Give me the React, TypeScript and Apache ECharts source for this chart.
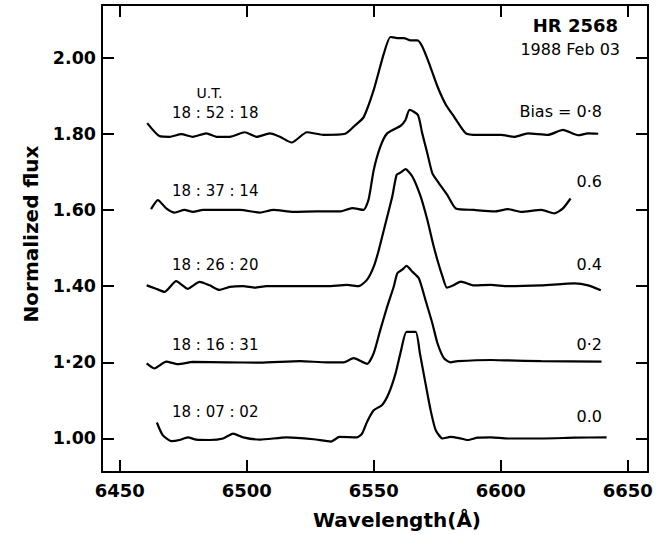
import React, { useEffect, useRef } from "react";
import * as echarts from "echarts";

// Tick values and labels
const xTicks = [6450, 6500, 6550, 6600, 6650];
const yTicks = [1.0, 1.2, 1.4, 1.6, 1.8, 2.0];
const yTickLabels = ["1.00", "1·20", "1.40", "1.60", "1.80", "2.00"];

// Spectra (plotted values include bias offset)
const wl08 = [6460.8, 6465.6, 6469.6, 6474.2, 6478.8, 6484.1, 6488.1, 6493.3, 6499.2, 6503.9, 6509.1, 6513.1, 6517.7, 6523.7, 6530.2, 6538.8, 6542.8, 6546.0, 6550.0, 6554.0, 6556.6, 6559.3, 6561.9, 6564.5, 6567.2, 6569.1, 6571.8, 6575.1, 6578.4, 6581.6, 6586.3, 6590.9, 6596.2, 6600.1, 6605.4, 6610.7, 6618.6, 6624.5, 6630.5, 6634.4, 6638.4];
const f08 = [1.828, 1.794, 1.792, 1.799, 1.792, 1.801, 1.792, 1.792, 1.804, 1.792, 1.801, 1.792, 1.777, 1.804, 1.797, 1.8, 1.823, 1.843, 1.915, 2.011, 2.054, 2.051, 2.051, 2.045, 2.045, 2.029, 1.985, 1.924, 1.876, 1.845, 1.801, 1.797, 1.797, 1.797, 1.792, 1.801, 1.797, 1.81, 1.796, 1.801, 1.8];

const wl06 = [6462.3, 6465.0, 6468.3, 6471.6, 6475.5, 6478.8, 6482.8, 6489.4, 6497.3, 6505.2, 6510.5, 6518.4, 6527.6, 6536.8, 6541.5, 6546.0, 6548.0, 6550.0, 6552.6, 6555.3, 6560.6, 6562.5, 6564.1, 6567.4, 6569.1, 6571.1, 6573.1, 6575.7, 6579.0, 6582.3, 6589.5, 6597.5, 6602.8, 6608.0, 6616.0, 6621.2, 6624.5, 6627.5];
const f06 = [1.602, 1.626, 1.604, 1.593, 1.6, 1.595, 1.6, 1.6, 1.6, 1.593, 1.6, 1.595, 1.596, 1.596, 1.605, 1.6, 1.628, 1.705, 1.766, 1.801, 1.821, 1.836, 1.863, 1.849, 1.801, 1.749, 1.696, 1.67, 1.639, 1.604, 1.6, 1.596, 1.602, 1.595, 1.6, 1.591, 1.604, 1.63];

const wl04 = [6460.6, 6464.3, 6467.6, 6472.2, 6476.8, 6481.4, 6485.4, 6489.1, 6493.3, 6498.6, 6503.2, 6507.8, 6518.4, 6531.6, 6539.5, 6544.1, 6547.4, 6550.0, 6552.0, 6555.3, 6557.3, 6559.0, 6560.5, 6562.5, 6565.2, 6568.5, 6571.1, 6573.4, 6575.1, 6577.1, 6578.8, 6581.6, 6584.3, 6589.5, 6596.2, 6602.8, 6616.0, 6629.1, 6634.4, 6639.4];
const f04 = [1.402, 1.393, 1.385, 1.413, 1.393, 1.411, 1.402, 1.39, 1.398, 1.4, 1.396, 1.4, 1.4, 1.4, 1.403, 1.4, 1.417, 1.451, 1.495, 1.582, 1.635, 1.692, 1.698, 1.707, 1.688, 1.635, 1.574, 1.51, 1.468, 1.425, 1.396, 1.403, 1.412, 1.402, 1.403, 1.4, 1.402, 1.407, 1.402, 1.389];

const wl02 = [6460.6, 6463.6, 6468.3, 6472.9, 6478.8, 6492.0, 6505.2, 6521.0, 6531.6, 6538.1, 6542.1, 6547.4, 6550.0, 6552.6, 6555.3, 6557.9, 6559.3, 6561.2, 6562.9, 6565.2, 6567.8, 6570.4, 6573.1, 6575.1, 6577.7, 6580.3, 6583.0, 6596.2, 6602.8, 6616.0, 6639.7];
const f02 = [1.197, 1.184, 1.202, 1.195, 1.201, 1.2, 1.199, 1.203, 1.2, 1.2, 1.211, 1.196, 1.224, 1.285, 1.346, 1.399, 1.434, 1.443, 1.453, 1.438, 1.42, 1.363, 1.302, 1.25, 1.21, 1.2, 1.203, 1.206, 1.205, 1.203, 1.202];

const wl00 = [6464.6, 6466.9, 6470.3, 6473.5, 6476.8, 6480.1, 6485.4, 6490.7, 6494.6, 6498.6, 6505.2, 6515.7, 6526.3, 6533.2, 6536.5, 6543.4, 6545.4, 6547.4, 6550.0, 6553.3, 6555.9, 6558.6, 6560.8, 6562.9, 6566.5, 6568.2, 6570.4, 6572.4, 6574.4, 6577.1, 6580.3, 6583.6, 6587.0, 6590.9, 6596.2, 6602.8, 6616.0, 6629.1, 6641.7];
const f00 = [1.042, 1.009, 0.993, 0.996, 1.003, 0.997, 0.996, 1.0, 1.013, 1.003, 0.997, 1.003, 0.998, 0.992, 1.004, 1.003, 1.013, 1.044, 1.074, 1.088, 1.118, 1.171, 1.232, 1.28, 1.28, 1.223, 1.144, 1.074, 1.022, 1.0, 1.004, 1.001, 0.996, 1.002, 1.003, 1.0, 1.0, 1.002, 1.003];

const times = ["18 : 52 : 18", "18 : 37 : 14", "18 : 26 : 20", "18 : 16 : 31", "18 : 07 : 02"];
const biasLabels = ["Bias = 0·8", "0.6", "0.4", "0·2", "0.0"];

const FONT = "DejaVu Sans";

function pairs(xs: number[], ys: number[]) {
  return xs.map((x, i) => [x, ys[i]]);
}

export default function App() {
  const ref = useRef<HTMLDivElement>(null);
  useEffect(() => {
    if (!ref.current) return;
    const chart = echarts.init(ref.current, undefined, { renderer: "svg" });
    const spectra = [
      pairs(wl08, f08),
      pairs(wl06, f06),
      pairs(wl04, f04),
      pairs(wl02, f02),
      pairs(wl00, f00),
    ];
    const axisLine = { show: true, lineStyle: { color: "#000", width: 2 } };
    const tickStyle = { lineStyle: { color: "#000", width: 2 } };
    const timeY = [112.5, 190.5, 265.3, 344.7, 412];
    const biasY = [111, 181.7, 264, 344, 416];
    const graphic: any[] = [
      { type: "text", x: 618, y: 25, style: { text: "HR 2568", font: `bold 18px '${FONT}'`, fill: "#000", align: "right", verticalAlign: "middle" } },
      { type: "text", x: 620, y: 49, style: { text: "1988 Feb 03", font: `16px '${FONT}'`, fill: "#000", align: "right", verticalAlign: "middle" } },
      { type: "text", x: 209.5, y: 93.3, style: { text: "U.T.", font: `14px '${FONT}'`, fill: "#000", align: "center", verticalAlign: "middle" } },
      { type: "text", x: 397, y: 520, style: { text: "Wavelength(Å)", font: `bold 20px '${FONT}'`, fill: "#000", align: "center", verticalAlign: "middle" } },
      { type: "text", x: 30.5, y: 234, rotation: Math.PI / 2, style: { text: "Normalized flux", font: `bold 20px '${FONT}'`, fill: "#000", align: "center", verticalAlign: "middle" } },
    ];
    times.forEach((t, i) => {
      graphic.push({ type: "text", x: 172, y: timeY[i], style: { text: t, font: `15px '${FONT}'`, fill: "#000", align: "left", verticalAlign: "middle" } });
    });
    biasLabels.forEach((t, i) => {
      graphic.push({ type: "text", x: 602, y: biasY[i], style: { text: t, font: `16px '${FONT}'`, fill: "#000", align: "right", verticalAlign: "middle" } });
    });

    chart.setOption({
      animation: false,
      backgroundColor: "#fff",
      grid: { left: 102, right: 18, top: 5, bottom: 63, containLabel: false },
      xAxis: [
        {
          type: "value", position: "bottom", min: 6443, max: 6658,
          axisLine, splitLine: { show: false },
          axisTick: { show: true, inside: true, length: 12, customValues: xTicks, ...tickStyle },
          axisLabel: { show: true, customValues: xTicks, margin: 9, color: "#000", fontFamily: FONT, fontSize: 18, fontWeight: "bold", formatter: (v: number) => String(Math.round(v)) },
        },
        {
          type: "value", position: "top", min: 6443, max: 6658,
          axisLine, splitLine: { show: false },
          axisTick: { show: true, inside: true, length: 12, customValues: xTicks, ...tickStyle },
          axisLabel: { show: false },
        },
      ],
      yAxis: [
        {
          type: "value", position: "left", min: 0.912, max: 2.138,
          axisLine, splitLine: { show: false },
          axisTick: { show: true, inside: true, length: 12, customValues: yTicks, ...tickStyle },
          axisLabel: {
            show: true, customValues: yTicks, margin: 6, color: "#000", fontFamily: FONT, fontSize: 17.5, fontWeight: "bold",
            formatter: (v: number) => {
              let best = 0;
              yTicks.forEach((t, i) => { if (Math.abs(t - v) < Math.abs(yTicks[best] - v)) best = i; });
              return yTickLabels[best];
            },
          },
        },
        {
          type: "value", position: "right", min: 0.912, max: 2.138,
          axisLine, splitLine: { show: false },
          axisTick: { show: true, inside: true, length: 12, customValues: yTicks, ...tickStyle },
          axisLabel: { show: false },
        },
      ],
      series: spectra.map((d) => ({
        type: "line",
        data: d,
        xAxisIndex: 0,
        yAxisIndex: 0,
        showSymbol: false,
        smooth: 0.2,
        lineStyle: { color: "#000", width: 2.2 },
      })),
      graphic,
    });
    return () => chart.dispose();
  }, []);
  return <div ref={ref} style={{ position: "fixed", left: 0, top: 0, width: 666, height: 535, background: "#fff" }} />;
}
